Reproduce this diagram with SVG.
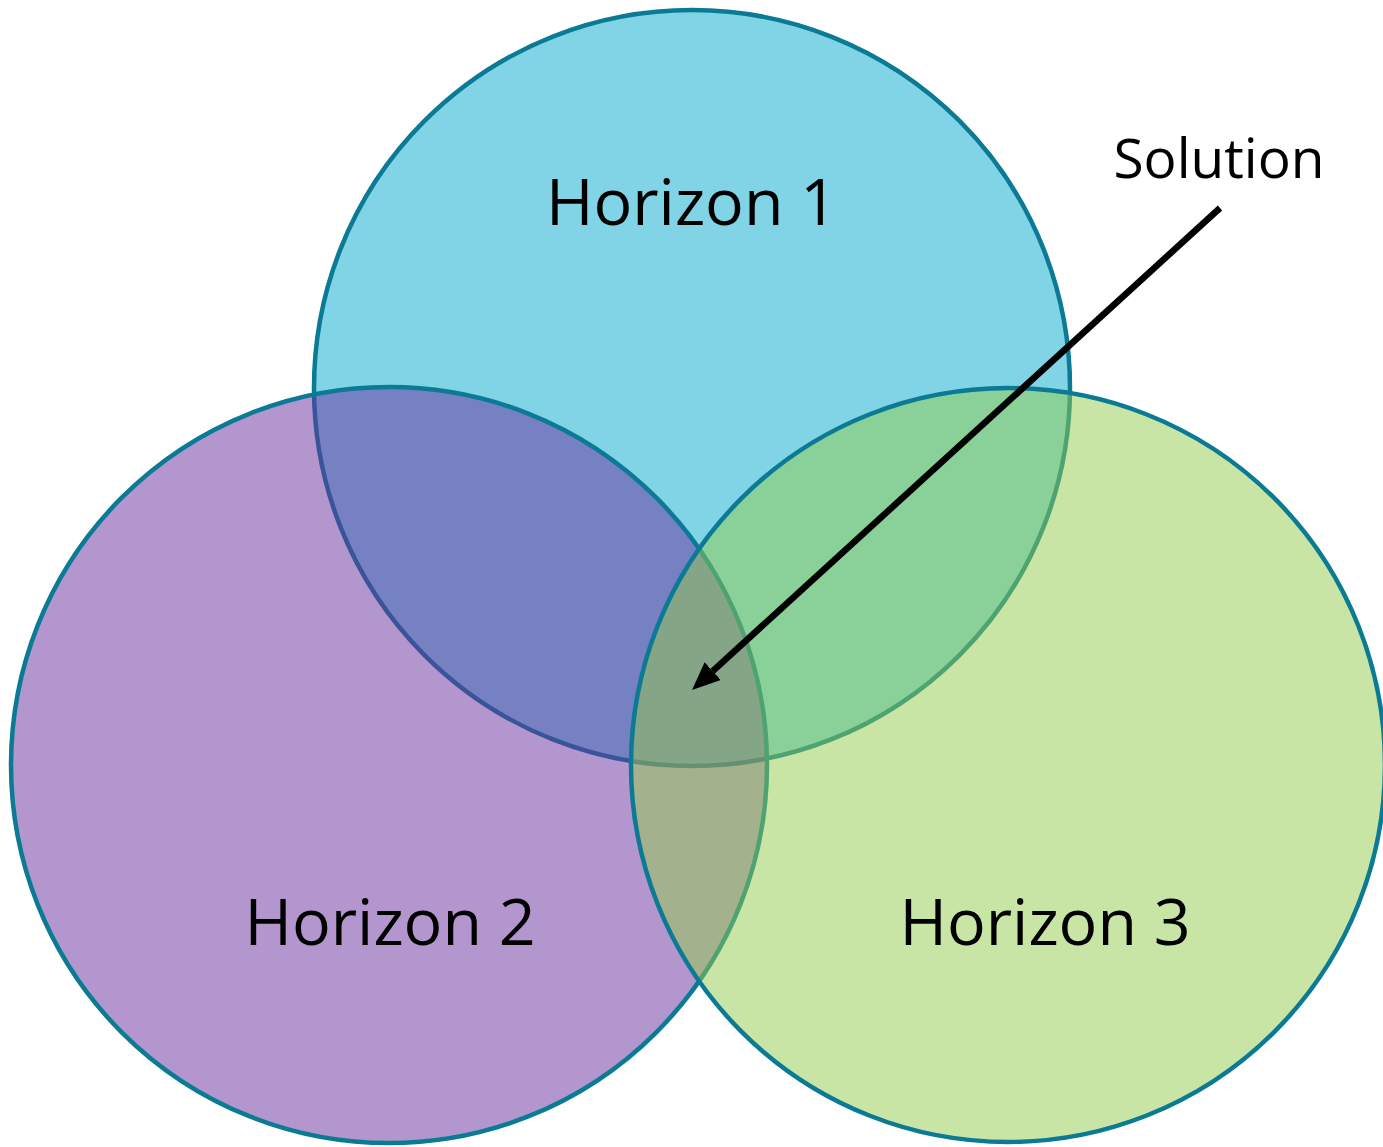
<svg xmlns="http://www.w3.org/2000/svg" width="1383" height="1147" viewBox="0 0 1383 1147">
  <style>
    .ring { stroke: #0B7A95; stroke-width: 4.5; }
    .lbl { font-family: "Open Sans", "Liberation Sans", sans-serif; fill: #000; text-anchor: middle; }
    .big { font-size: 64.5px; }
    .small { font-size: 55px; }
  </style>
  <defs>
    <marker id="arrowhead" markerUnits="userSpaceOnUse" markerWidth="28" markerHeight="24" viewBox="0 0 28 24" refX="0" refY="12" orient="auto">
      <path d="M0,0 L28,12 L0,24 z" fill="#000"/>
    </marker>
  </defs>
  <rect width="1383" height="1147" fill="#FFFFFF"/>
  <g id="horizon1">
    <circle class="ring" cx="692" cy="388" r="378" fill="#81D4E6"/>
    <text class="lbl big" x="691.5" y="225">Horizon 1</text>
  </g>
  <g id="horizon2">
    <circle class="ring" cx="389" cy="765" r="378" fill="#692D9D" fill-opacity="0.5"/>
    <text class="lbl big" x="390" y="945">Horizon 2</text>
  </g>
  <g id="horizon3">
    <circle class="ring" cx="1008" cy="765" r="377" fill="#93CB4B" fill-opacity="0.5"/>
    <text class="lbl big" x="1045" y="945">Horizon 3</text>
  </g>
  <g id="solution">
    <text class="lbl small" x="1219" y="178">Solution</text>
  </g>
  <g id="connectors">
    <line x1="1220" y1="208" x2="712.7" y2="671.1" stroke="#000" stroke-width="6.5" marker-end="url(#arrowhead)"/>
  </g>
</svg>
